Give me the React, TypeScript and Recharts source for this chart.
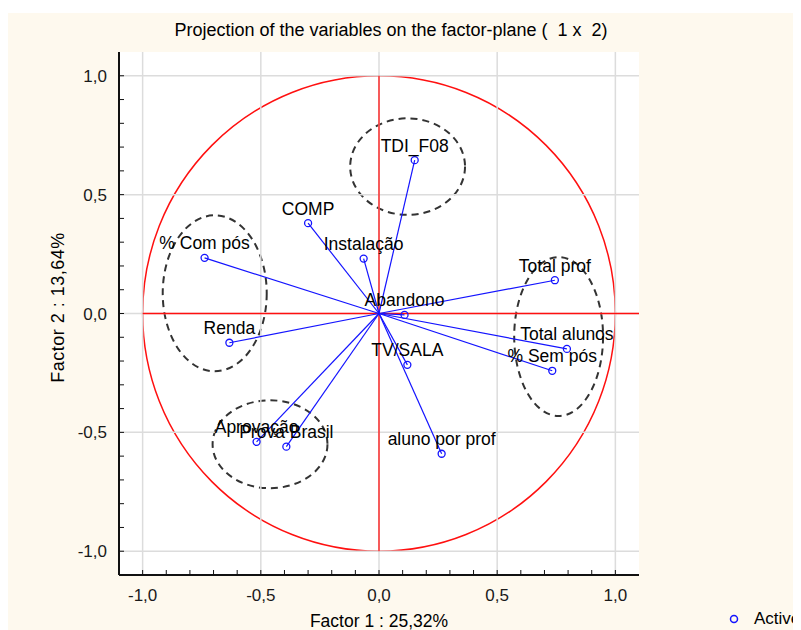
import React from 'react';
import {
    ScatterChart,
    Scatter,
    XAxis,
    YAxis,
    ReferenceLine,
    ReferenceArea,
    LabelList,
    Label
} from 'recharts';

// Variable loadings on factor 1 (x) and factor 2 (y)
const variableNames = [
    '% Com pós', 'COMP', 'Instalação', 'TDI_F08', 'Total prof', 'Abandono', 'Renda',
    'Aprovação', 'Prova Brasil', 'Total alunos', '% Sem pós', 'TV/SALA', 'aluno por prof'
];
const factor1 = [-0.738, -0.3, -0.065, 0.151, 0.744, 0.108, -0.633, -0.518, -0.392, 0.795, 0.733, 0.12, 0.265];
const factor2 = [0.234, 0.38, 0.231, 0.645, 0.14, -0.006, -0.123, -0.54, -0.56, -0.149, -0.241, -0.216, -0.59];

// tick marks every 0.1, labels only on the 0.5 steps
const axisTicks = [-1, -0.9, -0.8, -0.7, -0.6, -0.5, -0.4, -0.3, -0.2, -0.1, 0, 0.1, 0.2, 0.3, 0.4, 0.5, 0.6, 0.7, 0.8, 0.9, 1];
const gridValues = [-1, -0.5, 0, 0.5, 1];

// dashed cluster ellipses (centre and radii in factor units)
const clusterX = [0.121, -0.695, -0.461, 0.76];
const clusterY = [0.618, 0.085, -0.55, -0.097];
const clusterRx = [0.243, 0.22, 0.243, 0.188];
const clusterRy = [0.203, 0.328, 0.185, 0.334];

const points = variableNames.map((name, i) => ({ name, x: factor1[i], y: factor2[i] }));

const BLUE = '#1414ff';
const RED = '#ff1010';
const FONT = '"Liberation Sans", Arial, sans-serif';

const fmtTick = (v: number) =>
    Math.abs(v * 2 - Math.round(v * 2)) < 1e-6 ? v.toFixed(1).replace('.', ',') : '';

const ellipseShape = (stroke: string, strokeWidth: number, dash?: string) => (props: any) => {
    const { x, y, width, height } = props;
    return (
        <ellipse
            cx={x + width / 2}
            cy={y + height / 2}
            rx={Math.abs(width) / 2}
            ry={Math.abs(height) / 2}
            fill="none"
            stroke={stroke}
            strokeWidth={strokeWidth}
            strokeDasharray={dash}
        />
    );
};

const PointShape = (props: any) => (
    <circle cx={props.cx} cy={props.cy} r={3.5} fill="none" stroke={BLUE} strokeWidth={1.3} />
);

// plain text above each point, no wrapping
const PointLabel = (props: any) => {
    const { x, y, width, value } = props;
    return (
        <text x={x + width / 2} y={y - 4} textAnchor="middle" fontSize={17.5} fill="#000">
            {value}
        </text>
    );
};

const App = () => {
    const tickStyle = { fontSize: 17, fill: '#1a1a1a', fontFamily: FONT };
    const axisLine = { stroke: '#111', strokeWidth: 2 };
    return (
        <div style={{ position: 'relative', width: 794, height: 617, marginTop: 5, marginLeft: -1, background: '#fef9ee', fontFamily: FONT }}>
            <div style={{ position: 'absolute', top: 7, left: 384, transform: 'translateX(-50%)', fontSize: 18, whiteSpace: 'pre', color: '#000' }}>
                {'Projection of the variables on the factor-plane (  1 x  2)'}
            </div>
            <ScatterChart width={794} height={617} margin={{ top: 39, right: 162, bottom: 15, left: 0 }}>
                <rect x={112} y={39} width={520} height={523} fill="#ffffff" />
                <XAxis
                    type="number"
                    dataKey="x"
                    domain={[-1.1, 1.1]}
                    allowDataOverflow
                    ticks={axisTicks}
                    interval={0}
                    tickFormatter={fmtTick}
                    tick={tickStyle}
                    tickSize={-5}
                    tickMargin={19}
                    tickLine={{ stroke: '#111' }}
                    axisLine={axisLine}
                    height={40}
                >
                    <Label value="Factor 1 : 25,32%" position="bottom" offset={0} style={{ fontSize: 17.5, fill: '#000' }} />
                </XAxis>
                <XAxis
                    xAxisId="top"
                    orientation="top"
                    type="number"
                    domain={[-1.1, 1.1]}
                    allowDataOverflow
                    ticks={axisTicks}
                    interval={0}
                    tickFormatter={() => ''}
                    tickSize={-5}
                    tickLine={{ stroke: '#111' }}
                    axisLine={axisLine}
                    height={0}
                />
                <YAxis
                    type="number"
                    dataKey="y"
                    domain={[-1.1, 1.1]}
                    allowDataOverflow
                    ticks={axisTicks}
                    interval={0}
                    tickFormatter={fmtTick}
                    tick={tickStyle}
                    tickSize={-5}
                    tickMargin={17}
                    tickLine={{ stroke: '#111' }}
                    axisLine={axisLine}
                    width={112}
                >
                    <Label
                        value="Factor 2 : 13,64%"
                        angle={-90}
                        position="insideLeft"
                        offset={51}
                        dy={-6}
                        style={{ textAnchor: 'middle', fontSize: 18, letterSpacing: 0.5, fill: '#000' }}
                    />
                </YAxis>
                <YAxis
                    yAxisId="right"
                    orientation="right"
                    type="number"
                    domain={[-1.1, 1.1]}
                    allowDataOverflow
                    ticks={axisTicks}
                    interval={0}
                    tickFormatter={() => ''}
                    tickSize={-5}
                    tickLine={{ stroke: '#111' }}
                    axisLine={axisLine}
                    width={0}
                />
                {gridValues.map(v => (
                    <ReferenceLine key={'gx' + v} x={v} stroke="#dcdcdc" strokeWidth={1.5} />
                ))}
                {gridValues.map(v => (
                    <ReferenceLine key={'gy' + v} y={v} stroke="#dcdcdc" strokeWidth={1.5} />
                ))}
                <ReferenceArea x1={-1} x2={1} y1={-1} y2={1} shape={ellipseShape(RED, 1.5)} />
                <ReferenceLine segment={[{ x: -1, y: 0 }, { x: 1.1, y: 0 }]} stroke={RED} strokeWidth={1.3} />
                <ReferenceLine segment={[{ x: 0, y: -1 }, { x: 0, y: 1 }]} stroke={RED} strokeWidth={1.3} />
                {clusterX.map((cx, i) => (
                    <ReferenceArea
                        key={'c' + i}
                        x1={cx - clusterRx[i]}
                        x2={cx + clusterRx[i]}
                        y1={clusterY[i] - clusterRy[i]}
                        y2={clusterY[i] + clusterRy[i]}
                        shape={ellipseShape('#333', 2, '7 5')}
                    />
                ))}
                {points.map(p => (
                    <ReferenceLine
                        key={'v' + p.name}
                        segment={[{ x: 0, y: 0 }, { x: p.x, y: p.y }]}
                        stroke={BLUE}
                        strokeWidth={1.2}
                    />
                ))}
                <Scatter data={points} shape={PointShape} isAnimationActive={false}>
                    <LabelList dataKey="name" content={PointLabel} />
                </Scatter>
            </ScatterChart>
            <div style={{ position: 'absolute', left: 720, top: 596, display: 'flex', alignItems: 'center', fontSize: 17, color: '#000' }}>
                <svg width={14} height={14} style={{ marginRight: 13 }}>
                    <circle cx={7} cy={7} r={3.5} fill="none" stroke={BLUE} strokeWidth={1.5} />
                </svg>
                <span>Active</span>
            </div>
        </div>
    );
};

export default App;
